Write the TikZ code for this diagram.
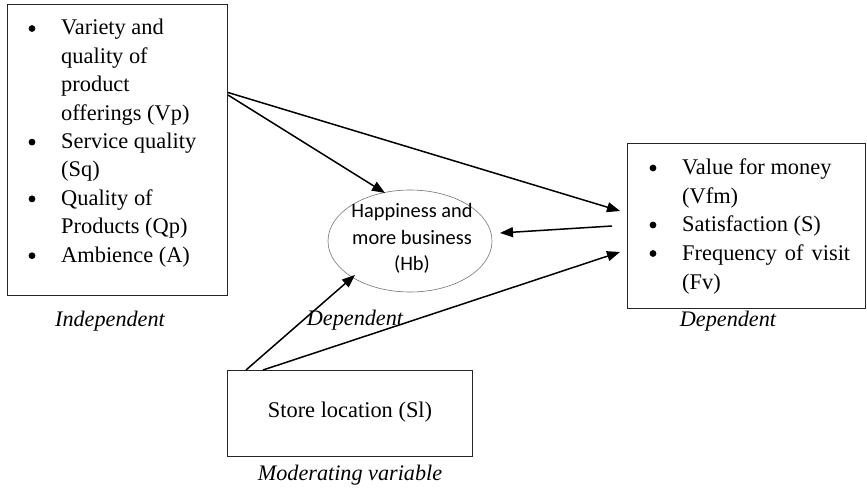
\documentclass[tikz,border=0pt]{standalone}
\usepackage{fontspec}
\setmainfont{Liberation Serif}
\newfontfamily\calib{Carlito}
\usetikzlibrary{arrows.meta,shapes.geometric}
\tikzset{
  boxnode/.style={draw=black!85, line width=1pt, inner sep=0pt, fill=none},
  ln/.style={anchor=base west, inner sep=0pt, font=\fontsize{22.4}{26}\selectfont},
  txt/.style={anchor=base, inner sep=0pt, font=\fontsize{22.4}{26}\selectfont},
  bul/.style={circle, fill=black, inner sep=0pt, minimum size=6.8pt},
  lbl/.style={anchor=base, inner sep=0pt, font=\fontsize{22.2}{26}\selectfont\itshape},
  elltxt/.style={anchor=base, inner sep=0pt, font=\calib\fontsize{20.4}{24}\selectfont, text=black},
  arr/.style={line width=1.5pt, -{Triangle[length=13pt,width=10pt]}}
}
\begin{document}
\begin{tikzpicture}[x=1pt,y=-1pt]
\useasboundingbox (0,0) rectangle (867,489);
% boxes
\node[boxnode, minimum width=220pt, minimum height=290pt] (ind) at (117,150) {};
\node[boxnode, minimum width=238pt, minimum height=164pt] (dep) at (746,226) {};
\node[boxnode, minimum width=245pt, minimum height=86pt] (sl) at (349.5,413) {};
\node[ellipse, draw=black!55, line width=0.6pt, minimum width=164pt, minimum height=102pt, inner sep=0pt] (hb) at (410,241) {};
% left box text
\node[bul] (b1) at (32,28.5) {};
\node[ln] (l1) at (61,35) {Variety and};
\node[ln] (l2) at (61,63.4) {quality of};
\node[ln] (l3) at (61,91.8) {product};
\node[ln] (l4) at (61,120.2) {offerings (Vp)};
\node[bul] (b2) at (32,142.1) {};
\node[ln] (l5) at (61,148.6) {Service quality};
\node[ln] (l6) at (61,177) {(Sq)};
\node[bul] (b3) at (32,198.9) {};
\node[ln] (l7) at (61,205.4) {Quality of};
\node[ln] (l8) at (61,233.8) {Products (Qp)};
\node[bul] (b4) at (32,255.7) {};
\node[ln] (l9) at (61,262.2) {Ambience (A)};
% right box text
\node[bul] (r1b) at (653,168) {};
\node[ln] (r1) at (682,175) {Value for money};
\node[ln] (r2) at (682,203.5) {(Vfm)};
\node[bul] (r3b) at (653,225) {};
\node[ln] (r3) at (682,232) {Satisfaction (S)};
\node[bul] (r4b) at (653,253.5) {};
\node[ln] (r4) at (682,260.5) {\makebox[168pt][s]{Frequency of visit}};
\node[ln] (r5) at (682,289) {(Fv)};
% ellipse text
\node[elltxt] (h1) at (412,218) {Happiness and};
\node[elltxt] (h2) at (412,244) {more business};
\node[elltxt] (h3) at (412,270) {(Hb)};
% store text
\node[txt] (s1) at (350,417) {Store location (Sl)};
% labels
\node[lbl] (lab1) at (110,326) {Independent};
\node[lbl] (lab2) at (355,325) {Dependent};
\node[lbl] (lab3) at (728,326) {Dependent};
\node[lbl] (lab4) at (350,480) {Moderating variable};
% connector endpoints
\coordinate (a1s) at (228,92.5);
\coordinate (a1e) at (620,211);
\coordinate (a2s) at (228,95);
\coordinate (a2e) at (385,193);
\coordinate (a3s) at (612,226);
\coordinate (a3e) at (500,233);
\coordinate (a4s) at (246,370);
\coordinate (a4e) at (355,275);
\coordinate (a5s) at (263,370);
\coordinate (a5e) at (620,252);
\draw[arr] (a1s) -- (a1e);
\draw[arr] (a2s) -- (a2e);
\draw[arr] (a3s) -- (a3e);
\draw[arr] (a4s) -- (a4e);
\draw[arr] (a5s) -- (a5e);
\end{tikzpicture}
\end{document}
